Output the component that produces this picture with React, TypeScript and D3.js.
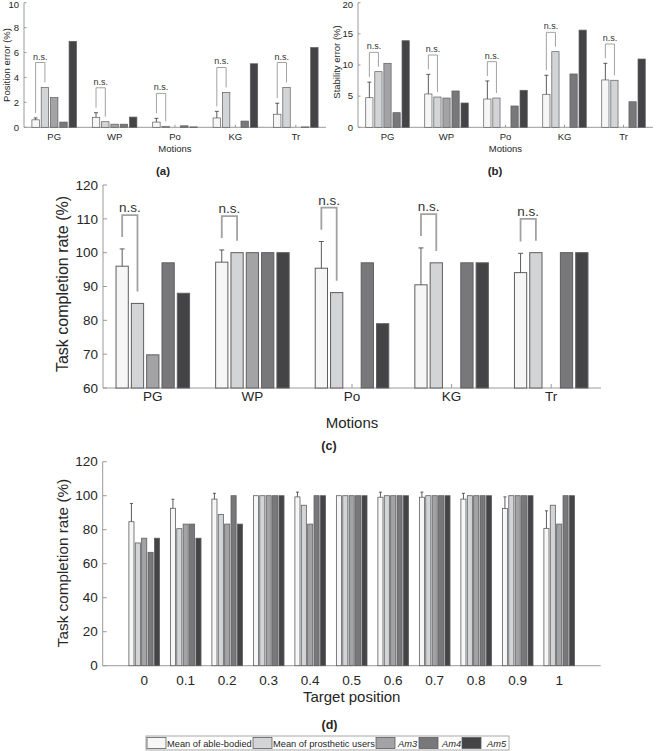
import React from "react";
import * as d3 from "d3";

// ---------- data ----------
const motions = ["PG", "WP", "Po", "KG", "Tr"];
const targetPositions = ["0", "0.1", "0.2", "0.3", "0.4", "0.5", "0.6", "0.7", "0.8", "0.9", "1"];
const seriesNames = ["Mean of able-bodied", "Mean of prosthetic users", "Am3", "Am4", "Am5"];

// (a) Position error (%)
const posAble = [0.6, 0.8, 0.42, 0.75, 1.05];
const posAbleErr = [0.15, 0.37, 0.3, 0.53, 0.88];
const posProst = [3.2, 0.45, 0.08, 2.8, 3.2];
const posAm3 = [2.38, 0.25, null, null, null];
const posAm4 = [0.42, 0.25, 0.12, 0.5, 0.03];
const posAm5 = [6.9, 0.82, 0.03, 5.1, 6.4];

// (b) Stability error (%)
const stabAble = [4.75, 5.35, 4.54, 5.3, 7.6];
const stabAbleErr = [2.5, 3.15, 2.9, 3.05, 2.67];
const stabProst = [8.93, 4.86, 4.7, 12.14, 7.55];
const stabAm3 = [10.27, 4.7, null, null, null];
const stabAm4 = [2.35, 5.83, 3.42, 8.56, 4.1];
const stabAm5 = [13.9, 3.9, 5.94, 15.6, 10.96];

// (c) Task completion rate (%) by motion
const tcrAble = [96, 97.2, 95.4, 90.5, 94.1];
const tcrAbleErr = [5.1, 3.6, 7.9, 10.9, 5.7];
const tcrProst = [85, 100, 88.2, 97, 100];
const tcrAm3 = [69.8, 100, null, null, null];
const tcrAm4 = [97, 100, 97, 97, 100];
const tcrAm5 = [88, 100, 79, 97, 100];

// (d) Task completion rate (%) by target position
const tpAble = [84.7, 92.6, 98.0, 100, 99.3, 100, 99.1, 99.1, 98.0, 92.5, 80.8];
const tpAbleErr = [10.7, 5.3, 3.4, 0, 2.8, 0, 3.0, 3.0, 3.4, 6.8, 10.3];
const tpProst = [72.2, 80.6, 88.9, 100, 94.4, 100, 100, 100, 100, 100, 94.4];
const tpAm3 = [75, 83.3, 83.3, 100, 83.3, 100, 100, 100, 100, 100, 83.3];
const tpAm4 = [66.7, 83.3, 100, 100, 100, 100, 100, 100, 100, 100, 100];
const tpAm5 = [75, 75, 83.3, 100, 100, 100, 100, 100, 100, 100, 100];

const ticksA = [0, 2, 4, 6, 8, 10];
const ticksB = [0, 5, 10, 15, 20];
const ticksC = [60, 70, 80, 90, 100, 110, 120];
const ticksD = [0, 20, 40, 60, 80, 100, 120];

// ---------- style ----------
const FONT = "'Liberation Sans', Arial, Helvetica, sans-serif";
const colors = ["#f5f6f5", "#d3d4d5", "#a3a3a6", "#78787b", "#444446"];
const EDGE = "#5e5e60";
const AXIS = "#9a9a9a";
const TEXT = "#262626";
const PITCH = 0.1538;
const BW = 0.123;

type V = number | null;

type PanelProps = {
  cats: string[];
  series: V[][];
  err: number[];
  pad: number;
  x0: number;
  x1: number;
  yTop: number;
  yBot: number;
  domain: [number, number];
  ticks: number[];
  tickFs: number;
  tickLen: number;
  xTickY: number;
  xLabel: string;
  xLabelY: number;
  labelFs: number;
  yLabel: string;
  yLabelX: number;
  yLabelY: number;
  yLabelFs: number;
  capW: number;
  barStroke: number;
  ns?: { gap: number; rise: number; fs: number; sw: number };
};

function Panel(p: PanelProps) {
  const n = p.cats.length;
  const x = d3.scaleLinear().domain([-p.pad, n - 1 + p.pad]).range([p.x0, p.x1]);
  const y = d3.scaleLinear().domain(p.domain).range([p.yBot, p.yTop]);
  const step = x(1) - x(0);
  const bw = BW * step;
  const items: React.ReactNode[] = [];

  // axes (drawn below bars)
  items.push(
    <line key="yax" x1={p.x0} x2={p.x0} y1={p.yTop} y2={p.yBot} stroke={AXIS} strokeWidth={1} />,
    <line key="xax" x1={p.x0} x2={p.x1} y1={p.yBot} y2={p.yBot} stroke={AXIS} strokeWidth={1} />
  );
  p.ticks.forEach((t) => {
    const ty = Math.max(y(t), p.tickFs * 0.4 + 0.5);
    items.push(
      <line key={"yt" + t} x1={p.x0} x2={p.x0 + p.tickLen} y1={y(t)} y2={y(t)} stroke={AXIS} />,
      <text key={"ytl" + t} x={p.x0 - 5} y={ty} dy="0.35em" textAnchor="end" fontSize={p.tickFs} fill={TEXT}>
        {t}
      </text>
    );
  });
  p.cats.forEach((c, i) => {
    items.push(
      <line key={"xt" + i} x1={x(i)} x2={x(i)} y1={p.yBot} y2={p.yBot - p.tickLen} stroke={AXIS} />,
      <text key={"xtl" + i} x={x(i)} y={p.xTickY} textAnchor="middle" fontSize={p.tickFs} fill={TEXT}>
        {c}
      </text>
    );
  });

  // bars
  p.series.forEach((s, j) => {
    s.forEach((v, i) => {
      if (v == null) return;
      const cx = x(i + (j - 2) * PITCH);
      items.push(
        <rect
          key={`b${j}-${i}`}
          x={cx - bw / 2}
          y={y(v)}
          width={bw}
          height={Math.max(0, p.yBot - y(v))}
          fill={colors[j]}
          stroke={EDGE}
          strokeWidth={p.barStroke}
        />
      );
    });
  });

  // error bars on able-bodied mean (upper half)
  p.series[0].forEach((v, i) => {
    const e = p.err[i];
    if (v == null || !e) return;
    const cx = x(i - 2 * PITCH);
    items.push(
      <g key={"e" + i} stroke="#4a4a4a" strokeWidth={0.9}>
        <line x1={cx} x2={cx} y1={y(v)} y2={y(v + e)} />
        <line x1={cx - p.capW} x2={cx + p.capW} y1={y(v + e)} y2={y(v + e)} />
      </g>
    );
  });

  // n.s. brackets
  if (p.ns) {
    const ns = p.ns;
    p.cats.forEach((_, i) => {
      const a = (p.series[0][i] as number) + p.err[i];
      const b = p.series[1][i] as number;
      const top = Math.max(a, b) + ns.rise;
      const lx = x(i - 2 * PITCH);
      const rx = x(i - PITCH);
      items.push(
        <path
          key={"br" + i}
          d={`M${lx},${y(a + ns.gap)}V${y(top)}H${rx}V${y(b + ns.gap)}`}
          fill="none"
          stroke="#a2a2a2"
          strokeWidth={ns.sw}
        />,
        <text key={"ns" + i} x={(lx + rx) / 2} y={y(top) - 3} textAnchor="middle" fontSize={ns.fs} fill="#333">
          n.s.
        </text>
      );
    });
  }

  // labels
  items.push(
    <text key="xl" x={(p.x0 + p.x1) / 2} y={p.xLabelY} textAnchor="middle" fontSize={p.labelFs} fill={TEXT}>
      {p.xLabel}
    </text>,
    <text
      key="yl"
      transform={`translate(${p.yLabelX},${p.yLabelY}) rotate(-90)`}
      textAnchor="middle"
      fontSize={p.yLabelFs}
      fill={TEXT}
    >
      {p.yLabel}
    </text>
  );
  return <g>{items}</g>;
}

const legendSwatchX = [147, 253, 376, 419, 462];
const legendTextX = [167, 273, 398, 442, 487];

export default function App() {
  return (
    <svg
      width={658}
      height={751}
      viewBox="0 0 658 751"
      style={{ position: "absolute", left: 0, top: 0, background: "#fff" }}
      fontFamily={FONT}
    >
      <rect x={0} y={0} width={658} height={751} fill="#fff" />
      <Panel
        cats={motions}
        series={[posAble, posProst, posAm3, posAm4, posAm5]}
        err={posAbleErr}
        pad={0.5}
        x0={24}
        x1={326}
        yTop={2.7}
        yBot={127.3}
        domain={[0, 10]}
        ticks={ticksA}
        tickFs={9.5}
        tickLen={2.5}
        xTickY={140}
        xLabel="Motions"
        xLabelY={152}
        labelFs={9.5}
        yLabel="Position error (%)"
        yLabelX={10}
        yLabelY={65}
        yLabelFs={9.5}
        capW={2}
        barStroke={0.7}
        ns={{ gap: 0.4, rise: 2, fs: 9, sw: 1 }}
      />
      <Panel
        cats={motions}
        series={[stabAble, stabProst, stabAm3, stabAm4, stabAm5]}
        err={stabAbleErr}
        pad={0.5}
        x0={358}
        x1={653}
        yTop={2.7}
        yBot={127.3}
        domain={[0, 20]}
        ticks={ticksB}
        tickFs={9.5}
        tickLen={2.5}
        xTickY={140}
        xLabel="Motions"
        xLabelY={152}
        labelFs={9.5}
        yLabel="Stability error (%)"
        yLabelX={340}
        yLabelY={62}
        yLabelFs={9.5}
        capW={2}
        barStroke={0.7}
        ns={{ gap: 0.8, rise: 3.1, fs: 9, sw: 1 }}
      />
      <text x={163} y={175} textAnchor="middle" fontSize={11.5} fontWeight="bold" fill={TEXT}>(a)</text>
      <text x={495} y={175} textAnchor="middle" fontSize={11.5} fontWeight="bold" fill={TEXT}>(b)</text>

      <Panel
        cats={motions}
        series={[tcrAble, tcrProst, tcrAm3, tcrAm4, tcrAm5]}
        err={tcrAbleErr}
        pad={0.5}
        x0={103}
        x1={601}
        yTop={185}
        yBot={388}
        domain={[60, 120]}
        ticks={ticksC}
        tickFs={13.5}
        tickLen={4}
        xTickY={401}
        xLabel="Motions"
        xLabelY={428}
        labelFs={15}
        yLabel="Task completion rate (%)"
        yLabelX={68}
        yLabelY={284}
        yLabelFs={16}
        capW={2.5}
        barStroke={1}
        ns={{ gap: 3.5, rise: 10, fs: 13.5, sw: 1.8 }}
      />
      <text x={329} y={450} textAnchor="middle" fontSize={12.5} fontWeight="bold" fill={TEXT}>(c)</text>

      <Panel
        cats={targetPositions}
        series={[tpAble, tpProst, tpAm3, tpAm4, tpAm5]}
        err={tpAbleErr}
        pad={1}
        x0={102.7}
        x1={600.7}
        yTop={461.7}
        yBot={665.7}
        domain={[0, 120]}
        ticks={ticksD}
        tickFs={13.5}
        tickLen={4}
        xTickY={685}
        xLabel="Target position"
        xLabelY={702}
        labelFs={15}
        yLabel="Task completion rate (%)"
        yLabelX={68}
        yLabelY={563}
        yLabelFs={15.3}
        capW={1.5}
        barStroke={0.8}
      />
      <text x={329.5} y={729} textAnchor="middle" fontSize={12.5} fontWeight="bold" fill={TEXT}>(d)</text>

      {/* legend */}
      <rect x={146} y={736} width={363} height={14} fill="#fff" stroke="#a8a8a8" strokeWidth={1} />
      {seriesNames.map((name, j) => (
        <g key={name}>
          <rect x={legendSwatchX[j]} y={737.5} width={19} height={11} fill={colors[j]} stroke={EDGE} strokeWidth={0.8} />
          <text
            x={legendTextX[j]}
            y={746.5}
            fontSize={9.3}
            fill={TEXT}
            fontStyle={j >= 2 ? "italic" : "normal"}
          >
            {name}
          </text>
        </g>
      ))}
    </svg>
  );
}
